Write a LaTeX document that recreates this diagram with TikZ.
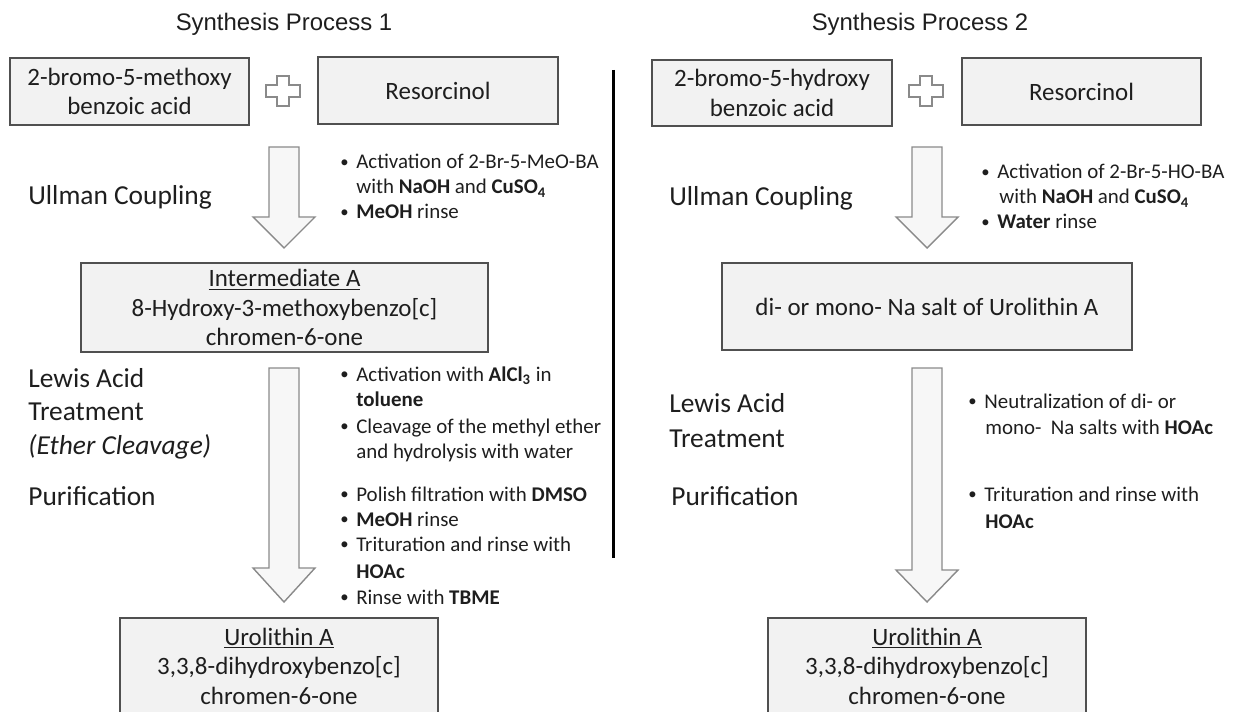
\documentclass[tikz,border=0pt]{standalone}
\usepackage{graphicx}
\usepackage{fontspec}
\setmainfont{Carlito}
\newfontfamily\titlefont{Liberation Sans}
\definecolor{boxfill}{HTML}{F2F2F2}
\definecolor{boxdraw}{HTML}{505050}
\definecolor{arrfill}{HTML}{F7F7F7}
\definecolor{arrdraw}{HTML}{8A8A8A}
\definecolor{txt}{HTML}{1E1E1E}
\newcommand{\mybul}{\makebox[9.1pt][l]{\raisebox{0.15ex}{\scalebox{0.8}{•}}}}
\begin{document}
\begin{tikzpicture}[x=0.02cm,y=-0.02cm,
  every node/.style={text=txt},
  ttl/.style={anchor=base, inner sep=0pt, font=\titlefont\fontsize{13.6}{16}\selectfont},
  box/.style={draw=boxdraw, fill=boxfill, line width=0.8pt, align=center, inner sep=0pt,
    font=\fontsize{14.2}{16.8}\selectfont},
  lab/.style={anchor=base west, inner sep=0pt, font=\fontsize{15.6}{18}\selectfont},
  bul/.style={anchor=base west, inner sep=0pt, font=\fontsize{11.9}{14}\selectfont},
  barrow/.style={draw=arrdraw, fill=arrfill, line width=0.8pt, line join=miter},
  plus/.style={draw=arrdraw, fill=white, line width=0.9pt},
  divider/.style={line width=1.7pt, black}]
\useasboundingbox (0,0) rectangle (1239,712);
\clip (0,0) rectangle (1239,712);

% ---------- titles ----------
\node[ttl] (t1) at (284,31) {Synthesis Process 1};
\node[ttl] (t2) at (920,31) {Synthesis Process 2};

% ---------- process 1 boxes ----------
\node[box, minimum width=4.78cm, minimum height=1.34cm] (L1) at (129.5,91.5) {2-bromo-5-methoxy\\benzoic acid};
\node[box, minimum width=4.80cm, minimum height=1.34cm] (RL) at (438,90.5) {Resorcinol};
\node[box, minimum width=8.14cm, minimum height=1.78cm] (IA) at (284.5,307.5) {\underline{Intermediate A}\\8-Hydroxy-3-methoxybenzo[c]\\chromen-6-one};
\node[box, minimum width=6.36cm, minimum height=1.92cm] (UL) at (279,666) {\underline{Urolithin A}\\3,3,8-dihydroxybenzo[c]\\chromen-6-one};

% ---------- process 2 boxes ----------
\node[box, minimum width=4.80cm, minimum height=1.32cm] (R1) at (772,93) {2-bromo-5-hydroxy\\benzoic acid};
\node[box, minimum width=4.78cm, minimum height=1.34cm] (RR) at (1081.5,91.5) {Resorcinol};
\node[box, minimum width=8.20cm, minimum height=1.74cm] (NA) at (927,306.5) {di- or mono- Na salt of Urolithin A};
\node[box, minimum width=6.36cm, minimum height=1.92cm] (UR) at (927,666) {\underline{Urolithin A}\\3,3,8-dihydroxybenzo[c]\\chromen-6-one};

% ---------- plus signs ----------
\coordinate (p1) at (283,91);
\coordinate (p2) at (926,91);
\foreach \p in {p1,p2}{
  \draw[plus] (\p) +(-6,-15) -- +(6,-15) -- +(6,-6) -- +(17,-6) -- +(17,6) -- +(6,6) -- +(6,15)
     -- +(-6,15) -- +(-6,6) -- +(-17,6) -- +(-17,-6) -- +(-6,-6) -- cycle;
}

% ---------- block arrows ----------
\coordinate (a1) at (284,147);
\coordinate (a2) at (284,368);
\coordinate (a3) at (927,147);
\coordinate (a4) at (927,368);
\draw[barrow] (a1) +(-15,0) -- +(15,0) -- +(15,70) -- +(31,70) -- +(0,101) -- +(-31,70) -- +(-15,70) -- cycle;
\draw[barrow] (a2) +(-15,0) -- +(15,0) -- +(15,200) -- +(31,200) -- +(0,234) -- +(-31,200) -- +(-15,200) -- cycle;
\draw[barrow] (a3) +(-15,0) -- +(15,0) -- +(15,70) -- +(31,70) -- +(0,101) -- +(-31,70) -- +(-15,70) -- cycle;
\draw[barrow] (a4) +(-15,0) -- +(15,0) -- +(15,202) -- +(31,202) -- +(0,234) -- +(-31,202) -- +(-15,202) -- cycle;

% ---------- divider ----------
\coordinate (d1) at (613,70);
\coordinate (d2) at (613,558);
\draw[divider] (d1) -- (d2);

% ---------- process 1 labels ----------
\node[lab] (l1) at (28,205) {Ullman Coupling};
\node[lab] (l2) at (28,387) {Lewis Acid};
\node[lab] (l3) at (28,420) {Treatment};
\node[lab] (l4) at (28,454) {\itshape (Ether Cleavage)};
\node[lab] (l5) at (28,505) {Purification};

% ---------- process 1 bullets ----------
\node[bul] (b1) at (340,169) {\mybul Activation of 2-Br-5-MeO-BA};
\node[bul] (b2) at (356,194) {with \textbf{NaOH} and \textbf{CuSO\textsubscript{4}}};
\node[bul] (b3) at (340,219) {\mybul \textbf{MeOH} rinse};
\node[bul] (b4) at (340,381) {\mybul Activation with \textbf{AlCl\textsubscript{3}} in};
\node[bul] (b5) at (356,406) {\textbf{toluene}};
\node[bul] (b6) at (340,433) {\mybul Cleavage of the methyl ether};
\node[bul] (b7) at (356,458) {and hydrolysis with water};
\node[bul] (b8) at (340,501) {\mybul Polish filtration with \textbf{DMSO}};
\node[bul] (b9) at (340,526) {\mybul \textbf{MeOH} rinse};
\node[bul] (b10) at (340,551) {\mybul Trituration and rinse with};
\node[bul] (b11) at (356,578) {\textbf{HOAc}};
\node[bul] (b12) at (340,604) {\mybul Rinse with \textbf{TBME}};

% ---------- process 2 labels ----------
\node[lab] (r1) at (669,206) {Ullman Coupling};
\node[lab] (r2) at (669,412) {Lewis Acid};
\node[lab] (r3) at (669,447) {Treatment};
\node[lab] (r4) at (671,505) {Purification};

% ---------- process 2 bullets ----------
\node[bul] (c1) at (981,179) {\mybul Activation of 2-Br-5-HO-BA};
\node[bul] (c2) at (999,204) {with \textbf{NaOH} and \textbf{CuSO\textsubscript{4}}};
\node[bul] (c3) at (981,229) {\mybul \textbf{Water} rinse};
\node[bul] (c4) at (968,408) {\mybul Neutralization of di- or};
\node[bul] (c5) at (985,434) {mono-\ \ Na salts with \textbf{HOAc}};
\node[bul] (c6) at (968,501) {\mybul Trituration and rinse with};
\node[bul] (c7) at (985,528) {\textbf{HOAc}};
\end{tikzpicture}
\end{document}
